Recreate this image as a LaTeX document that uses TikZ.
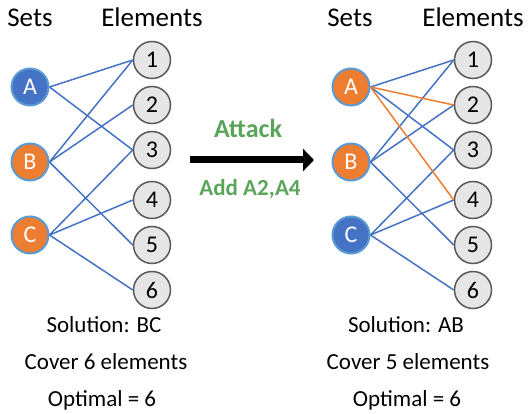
\documentclass[tikz,border=0pt]{standalone}
\usepackage{fontspec}
\setmainfont{Carlito}
\usetikzlibrary{arrows.meta}
\definecolor{setblue}{HTML}{4472C4}
\definecolor{setorange}{HTML}{ED7D31}
\definecolor{rimblue}{HTML}{5B9BD5}
\definecolor{elemgray}{HTML}{E7E6E6}
\definecolor{rimgray}{HTML}{595959}
\definecolor{attackgreen}{HTML}{5BA55B}
\tikzset{
    setnode/.style={circle, minimum size=37pt, inner sep=0pt, draw=rimblue, line width=2pt,
        text=white, font=\fontsize{24}{28}\selectfont},
    elemnode/.style={circle, minimum size=37pt, inner sep=0pt, draw=rimgray, fill=elemgray,
        line width=1.5pt, font=\fontsize{24}{28}\selectfont},
    head/.style={anchor=base, font=\fontsize{27}{31}\selectfont},
    caption/.style={anchor=base, font=\fontsize{23}{27}\selectfont},
    link/.style={setblue, line width=1.5pt},
    hot/.style={setorange, line width=1.5pt}
}

\begin{document}
\begin{tikzpicture}[x=1pt, y=-1pt]
    \useasboundingbox (0,0) rectangle (530,414);
    % left: before the attack
    \node[head] (lsets) at (30,27) {Sets};
    \node[head] (lelems) at (152,27) {Elements};
    \node[setnode, fill=setblue] (lA) at (30,87) {A};
    \node[setnode, fill=setorange] (lB) at (30,162) {B};
    \node[setnode, fill=setorange] (lC) at (30,235) {C};
    \foreach \i/\y in {1/60, 2/105, 3/150, 4/200, 5/245, 6/290}
        \node[elemnode] (l\i) at (152,\y) {\i};
    \foreach \s/\e in {A/1, A/3, B/1, B/2, B/5, C/3, C/4, C/6}
        \draw[link] (l\s.east) -- (l\e.west);
    \node[caption] (lsol) at (104,332) {Solution: BC};
    \node[caption] (lcov) at (106,369) {Cover 6 elements};
    \node[caption] (lopt) at (102,406) {Optimal = 6};

    % the attack
    \coordinate (from) at (190,160);
    \coordinate (to) at (314,160);
    \draw[line width=7pt, -{Triangle[length=11pt, width=22pt]}] (from) -- (to);
    \node[attackgreen, font=\bfseries\fontsize{26}{30}\selectfont] (attack) at (248,128) {Attack};
    \node[attackgreen, font=\bfseries\fontsize{23}{26}\selectfont] (add) at (250,189) {Add A2,A4};

    % right: after the attack
    \node[head] (rsets) at (350,27) {Sets};
    \node[head] (relems) at (473,27) {Elements};
    \node[setnode, fill=setorange] (rA) at (351,87) {A};
    \node[setnode, fill=setorange] (rB) at (351,162) {B};
    \node[setnode, fill=setblue] (rC) at (351,235) {C};
    \foreach \i/\y in {1/60, 2/105, 3/150, 4/200, 5/245, 6/290}
        \node[elemnode] (r\i) at (473,\y) {\i};
    \foreach \s/\e in {A/1, A/3, B/1, B/2, B/5, C/3, C/4, C/6}
        \draw[link] (r\s.east) -- (r\e.west);
    \draw[hot] (rA.east) -- (r2.west);
    \draw[hot] (rA.east) -- (r4.west);
    \node[caption] (rsol) at (406,332) {Solution: AB};
    \node[caption] (rcov) at (408,369) {Cover 5 elements};
    \node[caption] (ropt) at (407,406) {Optimal = 6};
\end{tikzpicture}
\end{document}
